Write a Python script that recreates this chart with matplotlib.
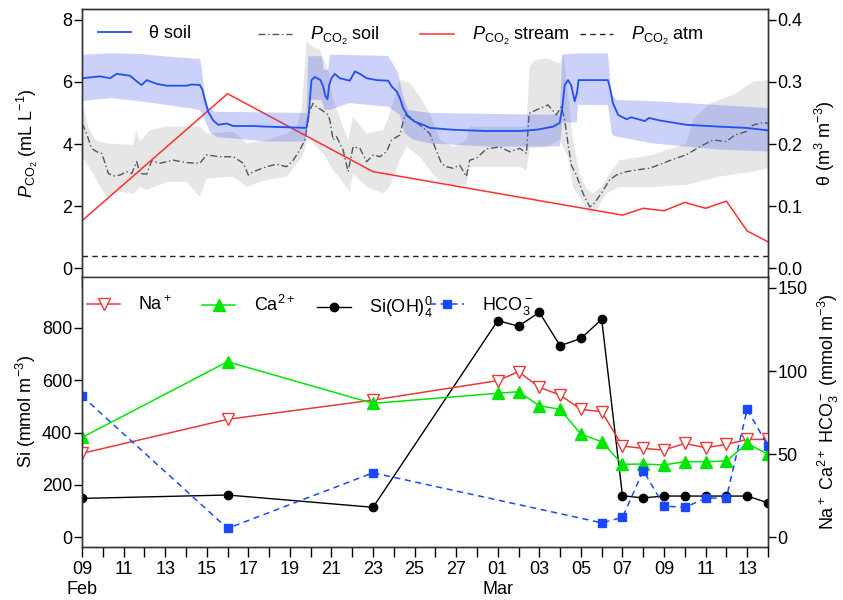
import datetime
import numpy as np
import matplotlib
matplotlib.use("Agg")
import matplotlib.pyplot as plt
from matplotlib.legend import Legend
from matplotlib.ticker import FixedLocator, MultipleLocator

plt.rcParams["font.family"] = ["Liberation Sans", "DejaVu Sans"]
plt.rcParams["mathtext.fontset"] = "custom"
plt.rcParams["mathtext.rm"] = "Liberation Sans"
plt.rcParams["mathtext.it"] = "Liberation Sans:italic"
plt.rcParams["font.size"] = 13

# x is days after 09 Feb
start = datetime.date(2019, 2, 9)
ndays = 33

# soil water content (m3 m-3)
theta_day = [0, 0.87, 1.35, 1.67, 2.31, 2.63, 2.87, 3.11, 3.59, 4.07, 5.03, 5.27, 5.67, 5.80,
             5.91, 6.07, 6.31, 6.55, 6.96, 7.28, 8.24, 8.88, 9.84, 10.80, 10.91, 11.04, 11.20,
             11.47, 11.60, 11.71, 11.81, 11.89, 12.00, 12.16, 12.40, 12.88, 13.13, 13.37, 13.69,
             14.17, 14.73, 14.89, 15.13, 15.29, 15.45, 15.69, 16.01, 16.41, 16.73, 17.85, 19.45,
             21.06, 21.86, 22.66, 22.98, 23.11, 23.22, 23.38, 23.54, 23.70, 23.81, 23.89, 25.30,
             25.42, 25.54, 25.79, 26.19, 26.43, 27.07, 27.28, 27.79, 29.07, 30.67, 31.95, 33.0]
theta = [.306, .309, .306, .313, .310, .301, .295, .303, .297, .294, .294, .296, .295, .287,
         .271, .252, .238, .231, .233, .229, .229, .228, .227, .226, .250, .303, .308,
         .303, .293, .277, .272, .295, .306, .313, .306, .302, .317, .313, .306,
         .303, .302, .293, .285, .274, .258, .244, .236, .231, .226, .223, .221,
         .221, .223, .228, .234, .260, .295, .303, .294, .269, .282, .303, .303,
         .287, .266, .247, .240, .243, .237, .242, .238, .231, .228, .226, .222]

theta_hi_day = [0, 1.35, 2.79, 4.07, 5.67, 5.75, 5.87, 6.07, 6.39, 10.80, 10.88, 11.52, 11.63,
                11.84, 11.92, 14.73, 14.89, 15.21, 15.45, 15.69, 16.73, 22.98, 23.11, 23.86,
                25.30, 25.47, 25.70, 27.47, 29.07, 33.0]
theta_hi = [.344, .346, .345, .341, .337, .325, .287, .260, .252, .250, .341, .342, .320,
            .319, .344, .342, .333, .314, .277, .255, .250, .247, .344, .346,
            .346, .282, .271, .269, .266, .258]
theta_lo_day = [0, 1.35, 2.79, 4.07, 5.67, 5.91, 6.15, 6.47, 7.28, 8.88, 10.80, 10.88, 11.52,
                11.68, 11.92, 12.88, 14.73, 15.29, 15.53, 15.93, 16.73, 19.45, 22.98, 23.11,
                23.80, 23.86, 25.30, 25.50, 25.70, 27.47, 29.07, 30.67, 33.0]
theta_lo = [.269, .274, .269, .263, .255, .239, .220, .211, .209, .204, .204, .271, .271,
            .255, .255, .266, .260, .247, .217, .207, .201, .196, .196, .235,
            .235, .263, .263, .215, .212, .201, .196, .191, .188]

# soil PCO2 (mL L-1)
soil_day = [0, 0.22, 0.46, 0.71, 0.95, 1.11, 1.27, 1.51, 1.83, 2.15, 2.39, 2.63, 2.79, 3.11,
            3.35, 3.75, 4.39, 5.03, 5.67, 5.99, 6.63, 7.28, 7.76, 8.00, 8.24, 8.88, 9.36, 9.84,
            10.16, 10.48, 10.72, 10.83, 10.96, 11.12, 11.28, 11.52, 11.84, 11.92, 12.08, 12.24,
            12.56, 12.80, 13.04, 13.37, 13.69, 14.01, 14.33, 14.65, 14.89, 15.29, 15.53, 15.77,
            16.25, 16.73, 16.97, 17.29, 17.53, 17.85, 18.17, 18.49, 18.65, 18.97, 19.45, 20.10,
            20.58, 21.06, 21.38, 21.51, 21.86, 22.42, 22.82, 23.06, 23.22, 23.38, 23.54, 23.78,
            24.10, 24.42, 24.58, 24.98, 25.38, 25.70, 26.19, 26.83, 27.31, 27.95, 28.43, 29.07,
            29.71, 30.35, 31.0, 31.4, 31.95, 32.28, 32.76, 33.0]
soil = [4.67, 4.34, 3.86, 3.75, 3.70, 3.38, 3.05, 2.97, 3.00, 3.11, 3.05, 3.43, 3.05, 3.03,
        3.46, 3.38, 3.48, 3.40, 3.38, 3.65, 3.59, 3.59, 3.38, 3.00, 3.11, 3.27, 3.35, 3.27,
        3.48, 3.81, 4.13, 4.56, 5.10, 5.31, 5.20, 5.10, 4.94, 4.77, 4.13, 4.24,
        3.81, 3.11, 3.91, 3.86, 3.43, 3.65, 3.59, 3.75, 4.13, 4.29, 4.94, 4.88,
        4.61, 4.34, 3.91, 3.38, 3.27, 3.22, 3.32, 2.95, 3.48, 3.54, 3.84, 3.91,
        3.75, 3.86, 3.70, 4.99, 5.10, 5.26, 4.94, 5.20, 4.77, 4.02, 3.32, 3.00,
        2.41, 1.98, 2.03, 2.41, 2.84, 3.00, 3.11, 3.18, 3.22, 3.38, 3.51, 3.65,
        3.91, 4.13, 4.08, 4.29, 4.40, 4.61, 4.69, 4.67]

soil_hi_day = [0, 0.30, 0.63, 1.19, 2.47, 2.60, 2.79, 3.27, 4.07, 5.67, 5.99, 7.28, 7.92, 8.88,
               9.84, 10.32, 10.56, 10.72, 10.80, 11.12, 11.44, 11.84, 12.08, 12.56, 12.80, 13.04,
               13.69, 14.49, 14.81, 15.29, 15.77, 16.25, 16.73, 17.21, 17.85, 18.49, 18.65, 21.38,
               21.54, 21.78, 22.34, 22.98, 23.17, 23.38, 23.62, 23.94, 24.26, 24.58, 24.98, 25.38,
               25.87, 27.47, 29.07, 29.4, 30.2, 31.47, 32.28, 33.0]
soil_hi = [5.42, 4.56, 4.13, 4.02, 3.97, 4.45, 4.08, 4.45, 4.56, 4.56, 4.34, 4.40, 4.02, 4.13,
           4.34, 4.56, 5.10, 6.49, 7.30, 7.14, 7.03, 6.39, 5.42, 4.56, 4.13, 4.88,
           4.34, 4.45, 4.99, 6.06, 5.96, 5.53, 4.99, 4.13, 3.91, 4.13, 4.56, 4.56,
           6.49, 6.71, 6.76, 6.60, 6.87, 5.63, 4.13, 3.05, 2.57, 2.41, 2.62, 3.05,
           3.48, 3.65, 4.02, 4.80, 5.30, 5.63, 6.01, 6.06]
soil_lo_day = [0, 0.54, 0.87, 1.19, 1.83, 2.47, 2.79, 3.11, 4.07, 5.03, 5.67, 5.99, 7.28, 7.92,
               8.88, 9.84, 10.16, 10.48, 10.72, 10.80, 11.12, 11.60, 12.08, 12.72, 12.88, 13.04,
               13.69, 14.49, 14.81, 15.29, 15.61, 16.25, 16.73, 17.21, 17.85, 18.49, 18.65, 21.06,
               21.38, 21.54, 22.34, 22.98, 23.38, 23.62, 24.10, 24.42, 24.74, 25.22, 25.87, 27.47,
               29.07, 30.67, 32.28, 33.0]
soil_lo = [3.59, 3.05, 2.62, 2.30, 2.46, 2.41, 2.62, 2.52, 2.78, 2.78, 2.30, 2.89, 2.95, 2.62,
           2.84, 2.95, 3.22, 3.48, 3.81, 4.34, 4.02, 3.70, 3.16, 2.62, 2.46, 3.05,
           2.62, 2.41, 2.62, 3.48, 3.91, 3.59, 3.16, 2.78, 2.68, 2.68, 3.27, 3.27,
           3.16, 3.86, 3.91, 4.13, 3.59, 2.62, 2.09, 1.76, 1.87, 2.41, 2.62, 2.62,
           2.68, 2.95, 3.11, 3.22]

# stream and atmospheric PCO2 (mL L-1)
stream_day = [0, 7, 14, 26, 27, 28, 29, 30, 31, 32, 33]
stream = [1.53, 5.62, 3.11, 1.71, 1.93, 1.85, 2.12, 1.93, 2.16, 1.20, 0.85]
atm_day = [0, 33]
atm = [0.40, 0.40]

# stream chemistry
chem_day = [0, 7, 14, 20, 21, 22, 23, 24, 25, 26, 27, 28, 29, 30, 31, 32, 33]
na = [50.4, 70.9, 82.5, 94.2, 99.6, 90.2, 85.5, 76.9, 75.5, 54.8, 53.4, 52.4, 56.4, 53.8, 55.8, 58.8, 58.8]
ca = [60.0, 105.6, 80.5, 86.6, 87.5, 79.1, 76.9, 62.0, 57.4, 43.8, 44.0, 43.4, 45.4, 45.4, 45.8, 56.4, 49.8]
si = [148, 161, 114, 828, 807, 860, 732, 760, 833, 158, 150, 157, 157, 157, 157, 157, 131]
hco3_day = [0, 7, 14, 25, 26, 27, 28, 29, 30, 31, 32, 33]
hco3 = [84.9, 5.2, 38.7, 8.6, 11.8, 40.0, 18.7, 17.9, 23.3, 23.7, 76.9, 54.8]

fig = plt.figure(figsize=(8.43, 6), dpi=100)
ax1 = fig.add_axes([0.0973, 0.538, 0.8137, 0.447])
ax2 = fig.add_axes([0.0973, 0.0883, 0.8137, 0.450])
ax1r = ax1.twinx()
ax2r = ax2.twinx()

# top panel
ax1.fill(np.r_[soil_hi_day, soil_lo_day[::-1]], np.r_[soil_hi, soil_lo[::-1]],
         color="#e6e6e6", lw=0)
h_soil, = ax1.plot(soil_day, soil, color="#555555", lw=1, ls=(0, (5, 2, 1, 2)))
h_stream, = ax1.plot(stream_day, stream, color="#ff3030", lw=1.1)
h_atm, = ax1.plot(atm_day, atm, color="#222222", lw=1, ls=(0, (4, 3)))
ax1r.fill(np.r_[theta_hi_day, theta_lo_day[::-1]], np.r_[theta_hi, theta_lo[::-1]],
          color="#4a5cf0", alpha=0.28, lw=0)
h_theta, = ax1r.plot(theta_day, theta, color="#2050f0", lw=1.3)

ax1.set_ylim(-0.29, 8.35)
ax1r.set_ylim(-0.0145, 0.4175)
ax1.yaxis.set_major_locator(MultipleLocator(2))
ax1r.yaxis.set_major_locator(FixedLocator([0, 0.1, 0.2, 0.3, 0.4]))
ax1r.yaxis.set_major_formatter(plt.FuncFormatter(lambda v, p: "%.1f" % v))
ax1.set_ylabel(r"$P_{\mathrm{CO_2}}$ (mL L$^{-1}$)", labelpad=16)
ax1r.set_ylabel(r"θ (m$^3$ m$^{-3}$)", labelpad=7)

# one legend per entry so the entries sit evenly spaced like the original
top_items = [(h_theta, "θ soil"), (h_soil, r"$P_{\mathrm{CO_2}}$ soil"),
             (h_stream, r"$P_{\mathrm{CO_2}}$ stream"), (h_atm, r"$P_{\mathrm{CO_2}}$ atm")]
top_x = [0.023, 0.257, 0.493, 0.726]
for (h, lab), x in zip(top_items, top_x):
    ax1r.add_artist(Legend(ax1r, [h], [lab], loc="upper left", bbox_to_anchor=(x, 0.94),
                           frameon=False, borderpad=0, borderaxespad=0,
                           handlelength=1.85, handletextpad=1.0))

# bottom panel
h_si, = ax2.plot(chem_day, si, color="black", lw=1, marker="o", ms=6)
h_na, = ax2r.plot(chem_day, na, color="#e83a3a", lw=1.1, marker="v", ms=8.5,
                  mfc="white", mec="#e83a3a")
h_ca, = ax2r.plot(chem_day, ca, color="#00e600", lw=1.1, marker="^", ms=8)
h_hco3, = ax2r.plot(hco3_day, hco3, color="#1a48ff", lw=1.1, ls=(0, (4, 3)),
                    marker="s", ms=5.5)
ax2.set_ylim(-38, 995)
ax2r.set_ylim(-6.0, 156.6)
ax2.yaxis.set_major_locator(FixedLocator([0, 200, 400, 600, 800]))
ax2r.yaxis.set_major_locator(FixedLocator([0, 50, 100, 150]))
ax2.set_ylabel(r"Si (mmol m$^{-3}$)", labelpad=3)
ax2r.set_ylabel(r"Na$^+$ Ca$^{2+}$ HCO$_3^-$ (mmol m$^{-3}$)", labelpad=6)

bot_items = [(h_na, r"Na$^+$"), (h_ca, r"Ca$^{2+}$"),
             (h_si, r"Si(OH)$_4^0$"), (h_hco3, r"HCO$_3^-$")]
bot_x = [0.007, 0.175, 0.343, 0.508]
for (h, lab), x in zip(bot_items, bot_x):
    ax2r.add_artist(Legend(ax2r, [h], [lab], loc="upper left", bbox_to_anchor=(x, 0.932),
                           frameon=False, borderpad=0, borderaxespad=0,
                           handlelength=1.85, handletextpad=1.0))

# date axis
labels = []
for d in range(0, ndays + 1, 2):
    day = start + datetime.timedelta(days=d)
    txt = day.strftime("%d")
    if d == 0 or day.day == 1:
        txt += "\n" + day.strftime("%b")
    labels.append(txt)

for a in (ax1, ax2):
    a.set_xlim(0, ndays)
    a.xaxis.set_major_locator(FixedLocator(range(0, ndays + 1, 2)))
    a.xaxis.set_minor_locator(FixedLocator(range(1, ndays + 1, 2)))
    a.tick_params(axis="x", which="both", direction="out", length=7, width=1, pad=3)
ax2.set_xticklabels(labels)
ax1.tick_params(axis="x", labelbottom=False)

for a in (ax1, ax1r, ax2, ax2r):
    a.tick_params(axis="y", direction="out", length=6, width=1, pad=1)
    for s in a.spines.values():
        s.set_linewidth(1)
        s.set_color("#333333")
for a in (ax2, ax2r):
    a.spines["top"].set_visible(False)

fig.savefig("out.png", dpi=100)
